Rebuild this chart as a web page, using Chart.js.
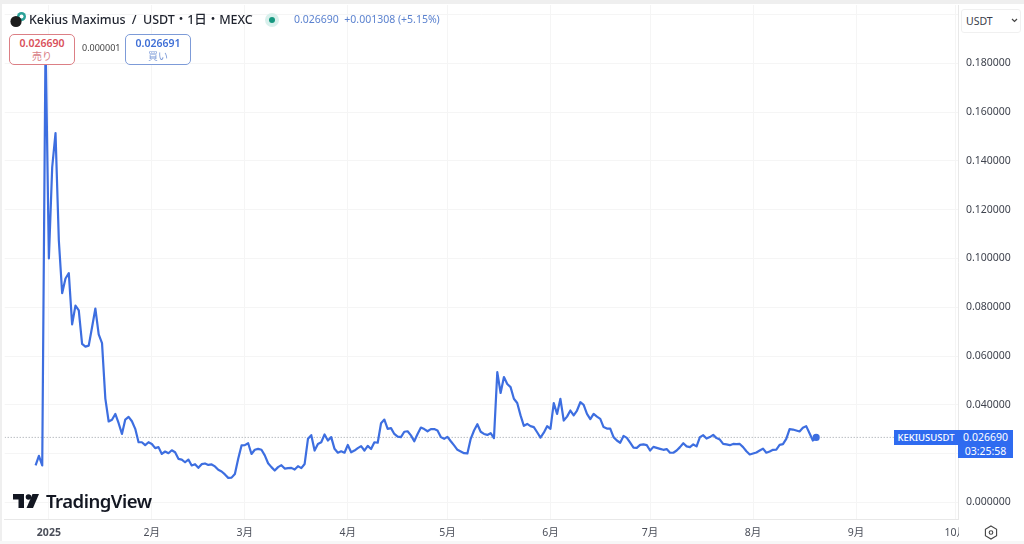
<!DOCTYPE html>
<html lang="ja">
<head>
<meta charset="utf-8">
<title>KEKIUSUSDT</title>
<script src="https://cdn.jsdelivr.net/npm/chart.js@4"></script>
<style>
    html, body { margin: 0; padding: 0; background: #fff; }
    #wrap {
        position: relative; width: 1024px; height: 544px; overflow: hidden;
        font-family: "Noto Sans", "Noto Sans CJK JP", sans-serif; color: #131722;
    }
    #wrap canvas { position: absolute; left: 0; top: 0; }
    .abs { position: absolute; white-space: nowrap; }
    .bandTop { left: 0; top: 0; width: 1024px; height: 4px; background: #efefef; }
    .bandLeft { left: 0; top: 0; width: 2px; height: 544px; background: #efefef; }
    .bandBottom { left: 0; top: 541px; width: 1024px; height: 3px; background: #f7f7f7; }
    .title { left: 29px; top: 11px; font-size: 12.5px; line-height: 18px; color: #1f232e; font-weight: 500; letter-spacing: -0.05px; }
    .quote { left: 294px; top: 12px; font-size: 10.5px; line-height: 15px; color: #5b82cf; }
    .status { left: 265px; top: 13px; width: 14px; height: 14px; border-radius: 50%; background: #d8f0ec; }
    .status i { position: absolute; left: 4px; top: 4px; width: 6px; height: 6px; border-radius: 50%; background: #15977f; }
    .tradeBox {
        top: 34px; width: 64px; background: #fff; border: 1px solid; border-radius: 5px;
        text-align: center; font-size: 10px; line-height: 13px; padding-top: 1px; height: 28px;
    }
    .tradeBox b { display: block; font-weight: 600; font-size: 10.5px; line-height: 14px; }
    .sell { left: 9px; border-color: #dc7f85; color: #d9505a; }
    .sell span { color: #d98085; }
    .buy { left: 125px; border-color: #7d9bd8; color: #3f6fd6; }
    .buy span { color: #7d9bd8; }
    .spread { left: 82px; top: 42px; font-size: 9px; line-height: 12px; color: #444; }
    .currency {
        left: 961px; top: 9px; width: 58px; height: 22px; background: #fff; border: 1px solid #f0f0f0;
        border-radius: 3px; font-size: 10.5px; line-height: 22px; text-indent: 4px; color: #3a3e49;
    }
    .brand { left: 46px; top: 488px; font-size: 18.5px; line-height: 26px; font-weight: 600; color: #131722; letter-spacing: -0.5px; }
    .symTag {
        left: 894px; top: 430px; width: 64px; height: 15px; background: #2f6bf0; color: #fff;
        font-size: 9.5px; line-height: 15px; text-align: center; font-weight: 500;
    }
    .priceTag {
        left: 958px; top: 430px; width: 55px; height: 28px; background: #2f6bf0; color: #fff;
        font-size: 10.5px; line-height: 14px; text-align: center;
    }
</style>
</head>
<body>
<div id="wrap">
    <canvas id="priceChart" width="1024" height="544"></canvas>
    <div class="abs bandTop"></div>
    <div class="abs bandLeft"></div>
    <div class="abs bandBottom"></div>

    <svg class="abs" style="left:10px;top:11px" width="17" height="17" viewBox="0 0 17 17">
        <circle cx="11.5" cy="5.5" r="4.5" fill="#2aa198"/>
        <circle cx="11.5" cy="5.5" r="2" fill="#fff"/>
        <circle cx="6" cy="10.5" r="5.6" fill="#1c1c1c"/>
    </svg>
    <div class="abs title">Kekius Maximus&nbsp; / &nbsp;USDT・1日・MEXC</div>
    <div class="abs status"><i></i></div>
    <div class="abs quote">0.026690&nbsp; +0.001308 (+5.15%)</div>

    <div class="abs tradeBox sell"><b>0.026690</b><span>売り</span></div>
    <div class="abs spread">0.000001</div>
    <div class="abs tradeBox buy"><b>0.026691</b><span>買い</span></div>

    <div class="abs currency">USDT</div>
    <svg class="abs" style="left:1011px;top:18px" width="7" height="5" viewBox="0 0 7 5">
        <path d="M1 1 L3.5 3.5 L6 1" fill="none" stroke="#444" stroke-width="1.2"/>
    </svg>

    <svg class="abs" style="left:13px;top:494px" width="26" height="14" viewBox="0 0 26 14">
        <path d="M0 0 H11 V14 H5.5 V5.5 H0 Z" fill="#131722"/>
        <circle cx="15.5" cy="3" r="2.8" fill="#131722"/>
        <path d="M19.5 0 H26 L20 14 H13.5 Z" fill="#131722"/>
    </svg>
    <div class="abs brand">TradingView</div>

    <div class="abs symTag">KEKIUSUSDT</div>
    <div class="abs priceTag">0.026690<br>03:25:58</div>

    <svg class="abs" style="left:984px;top:525px" width="14" height="15" viewBox="0 0 14 15">
        <path d="M7 1 L12.6 4.2 V10.8 L7 14 L1.4 10.8 V4.2 Z" fill="none" stroke="#444" stroke-width="1.1"/>
        <circle cx="7" cy="7.5" r="1.8" fill="none" stroke="#444" stroke-width="1.1"/>
    </svg>
</div>

<script>
// daily closes, first one is 4 days before 1 Jan 2025
const firstDay = -4;
const closePrices = [
    0.0152, 0.0191, 0.0152, 0.19, 0.1000, 0.1374, 0.1514, 0.1074, 0.0858, 0.0918,
    0.0940, 0.0730, 0.0807, 0.0787, 0.0650, 0.0639, 0.0643, 0.0718, 0.0795, 0.0689,
    0.0653, 0.0426, 0.0332, 0.0339, 0.0363, 0.0325, 0.0281, 0.0340, 0.0351, 0.0333,
    0.0302, 0.0247, 0.0247, 0.0235, 0.0247, 0.0240, 0.0223, 0.0227, 0.0199, 0.0209,
    0.0202, 0.0214, 0.0206, 0.0179, 0.0176, 0.0165, 0.0176, 0.0152, 0.0157, 0.0142,
    0.0157, 0.0160, 0.0154, 0.0156, 0.0148, 0.0134, 0.0127, 0.0115, 0.0101, 0.0102,
    0.0117, 0.0179, 0.0234, 0.0235, 0.0243, 0.0199, 0.0216, 0.0220, 0.0216, 0.0193,
    0.0161, 0.0145, 0.0131, 0.0145, 0.0153, 0.0139, 0.0141, 0.0142, 0.0135, 0.0149,
    0.0141, 0.0158, 0.0261, 0.0276, 0.0213, 0.0240, 0.0247, 0.0279, 0.0254, 0.0268,
    0.0220, 0.0204, 0.0210, 0.0204, 0.0236, 0.0206, 0.0213, 0.0223, 0.0231, 0.0213,
    0.0232, 0.0219, 0.0247, 0.0245, 0.0325, 0.0340, 0.0302, 0.0305, 0.0281, 0.0270,
    0.0268, 0.0290, 0.0292, 0.0275, 0.0251, 0.0281, 0.0307, 0.0301, 0.0292, 0.0301,
    0.0301, 0.0295, 0.0268, 0.0261, 0.0269, 0.0251, 0.0234, 0.0216, 0.0209, 0.0202,
    0.0201, 0.0261, 0.0295, 0.0321, 0.0290, 0.0281, 0.0277, 0.0284, 0.0264, 0.0534,
    0.0449, 0.0514, 0.0486, 0.0473, 0.0425, 0.0408, 0.0357, 0.0314, 0.0322, 0.0313,
    0.0309, 0.0288, 0.0266, 0.0286, 0.0313, 0.0302, 0.0407, 0.0363, 0.0425, 0.0336,
    0.0352, 0.0377, 0.0357, 0.0377, 0.0411, 0.0400, 0.0363, 0.0342, 0.0363, 0.0352,
    0.0343, 0.0309, 0.0303, 0.0303, 0.0268, 0.0254, 0.0245, 0.0273, 0.0265, 0.0245,
    0.0225, 0.0224, 0.0236, 0.0238, 0.0235, 0.0213, 0.0228, 0.0224, 0.0220, 0.0216,
    0.0219, 0.0204, 0.0204, 0.0213, 0.0227, 0.0243, 0.0230, 0.0227, 0.0238, 0.0230,
    0.0268, 0.0276, 0.0262, 0.0268, 0.0277, 0.0264, 0.0258, 0.0240, 0.0238, 0.0235,
    0.0240, 0.0239, 0.0240, 0.0227, 0.0210, 0.0197, 0.0201, 0.0205, 0.0213, 0.0221,
    0.0204, 0.0209, 0.0216, 0.0217, 0.0236, 0.0239, 0.0261, 0.0301, 0.0299, 0.0295,
    0.0291, 0.0306, 0.0313, 0.0284, 0.0254, 0.02669
];
const lastPrice = 0.02669;
const monthDays = [0, 31, 59, 90, 120, 151, 181, 212, 243, 273];
const monthLabels = ['2025', '2月', '3月', '4月', '5月', '6月', '7月', '8月', '9月', '10月'];
const priceTicks = [0, 0.02, 0.04, 0.06, 0.08, 0.1, 0.12, 0.14, 0.16, 0.18, 0.2];
const axisMinDay = -13.3;
const axisMaxDay = 273.7;

const axisFont = '"Noto Sans", "Noto Sans CJK JP", sans-serif';
const gridColor = '#f5f5f5';
const lineColor = '#3d6ee0';

// cuts the 10月 label off where the price axis starts
const clipTimeAxis = {
    id: 'clipTimeAxis',
    afterDatasetsDraw(chart) {
        const area = chart.chartArea;
        chart.ctx.fillStyle = '#fff';
        chart.ctx.fillRect(area.right + 1, area.bottom + 1, 1024 - area.right, 20);
    }
};

const ctx = document.getElementById('priceChart').getContext('2d');
const priceChart = new Chart(ctx, {
    type: 'line',
    data: {
        datasets: [
            {
                label: 'KEKIUSUSDT',
                data: closePrices.map((v, i) => ({ x: firstDay + i, y: v })),
                borderColor: lineColor,
                backgroundColor: lineColor,
                borderWidth: 2.2,
                borderJoinStyle: 'round',
                tension: 0,
                pointRadius: c => (c.dataIndex === closePrices.length - 1 ? 2.5 : 0),
                pointHoverRadius: 0
            },
            {
                label: 'last',
                data: [{ x: axisMinDay, y: lastPrice }, { x: axisMaxDay, y: lastPrice }],
                borderColor: '#9aa0a6',
                borderWidth: 1,
                borderDash: [1, 2],
                pointRadius: 0
            }
        ]
    },
    options: {
        responsive: false,
        animation: false,
        layout: { padding: { left: 3, top: 5, right: 4, bottom: 3 } },
        plugins: { legend: { display: false }, tooltip: { enabled: false } },
        scales: {
            x: {
                type: 'linear',
                min: axisMinDay,
                max: axisMaxDay,
                afterFit: scale => {
                    scale.height = 22;
                    scale.paddingLeft = 0;
                    scale.paddingRight = 0;
                },
                afterBuildTicks: scale => { scale.ticks = monthDays.map(d => ({ value: d })); },
                grid: { color: gridColor, drawTicks: false },
                border: { color: '#e8e8e8' },
                ticks: {
                    autoSkip: false,
                    maxRotation: 0,
                    padding: 8,
                    color: '#4a4e59',
                    font: c => ({ family: axisFont, size: 10.5, weight: c.index === 0 ? '700' : '400' }),
                    callback: value => monthLabels[monthDays.indexOf(value)]
                }
            },
            y: {
                position: 'right',
                min: -0.00676,
                max: 0.2039,
                afterFit: scale => {
                    scale.width = 62;
                    scale.paddingTop = 0;
                    scale.paddingBottom = 0;
                },
                afterBuildTicks: scale => { scale.ticks = priceTicks.map(v => ({ value: v })); },
                grid: { color: gridColor, drawTicks: false },
                border: { color: '#e8e8e8' },
                ticks: {
                    padding: 8,
                    color: '#3f434e',
                    font: { family: axisFont, size: 10.5 },
                    callback: value => value.toFixed(6)
                }
            }
        }
    },
    plugins: [clipTimeAxis]
});
</script>
</body>
</html>
